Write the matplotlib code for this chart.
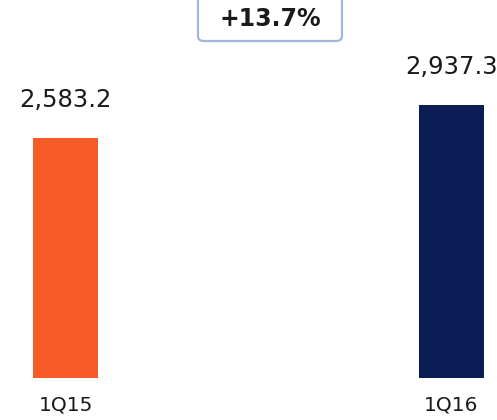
import matplotlib.pyplot as plt
from matplotlib.patches import FancyBboxPatch

categories = ['1Q15', '1Q16']
values = [2583.2, 2937.3]
colors = ['#F75B28', '#0C1C54']
growth = '+13.7%'

fig = plt.figure(figsize=(4.97, 4.20), dpi=100)
ax = fig.add_axes([0, 0.1, 1, 0.9])

x = [0, 1]
ax.bar(x, values, width=0.168, color=colors)
ax.set_xlim(-0.1697, 1.1179)
ax.set_ylim(0, 4068)
ax.axis('off')

# подписи значений над столбцами
for xi, v in zip(x, values):
    ax.annotate(f'{v:,.1f}', (xi, v), xytext=(0, 27.5), textcoords='offset points',
                ha='center', va='center', fontsize=17.5, color='#1a1a1a')

# подписи категорий под осью
for xi, c in zip(x, categories):
    ax.annotate(c, (xi, 0), xytext=(0, -19.5), textcoords='offset points',
                ha='center', va='center', fontsize=14.5, color='#1a1a1a')

# рамка с приростом
box = FancyBboxPatch((198 / 497, (420 - 41) / 420), 144 / 497, 50 / 420,
                     boxstyle='round,pad=0,rounding_size=0.012',
                     transform=fig.transFigure, facecolor='white',
                     edgecolor='#A3B8D5', linewidth=1.6, clip_on=False)
fig.patches.append(box)
fig.text(270 / 497, 1 - 19 / 420, growth, ha='center', va='center',
         fontsize=17, fontweight='bold', color='#1a1a1a')

fig.savefig('out.png', dpi=100)
